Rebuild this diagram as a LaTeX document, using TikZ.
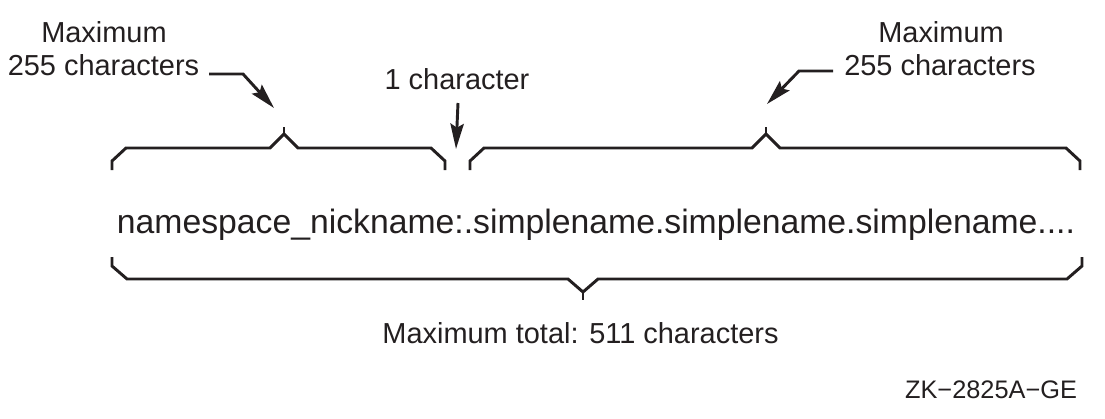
\documentclass[tikz,border=0pt]{standalone}
\usepackage{fontspec}
\setmainfont{Liberation Sans}
\usetikzlibrary{arrows.meta}
\definecolor{ink}{HTML}{231F20}
\begin{document}
\begin{tikzpicture}[x=0.75pt,y=-0.75pt,
  lbl/.style={inner sep=0pt,anchor=base,text=ink,font=\fontsize{21.7}{26}\selectfont},
  big/.style={inner sep=0pt,anchor=base,text=ink,font=\fontsize{25.3}{30}\selectfont},
  small/.style={inner sep=0pt,anchor=base,text=ink,font=\fontsize{19}{23}\selectfont},
  brace/.style={draw=ink,line width=2.2pt,line join=miter},
  tick/.style={draw=ink,line width=1.5pt},
  pointer/.style={draw=ink,line width=2.2pt,-{Stealth[length=19pt,width=10pt,inset=3pt]}}]
\useasboundingbox (0,0) rectangle (1105,418);

% labels
\node[lbl] (maxL) at (104,42) {Maximum};
\node[lbl] (numL) at (103.5,75) {255 characters};
\node[lbl] (one) at (457,89) {1 character};
\node[lbl] (maxR) at (941,42) {Maximum};
\node[lbl] (numR) at (940,75) {255 characters};
\node[big] (main) at (596,233) {namespace\_nickname:.simplename.simplename.simplename....};
\node[lbl] (total) at (580.5,343) {Maximum total: 511 characters};
\node[small] (code) at (991,398) {ZK−2825A−GE};

% top-left brace
\draw[brace] (112,170) -- (112,161) -- (126,148) -- (270,148) -- (284,134) -- (298,148) -- (431,148) -- (445,161) -- (445,170);
\draw[tick] (284,134) -- (284,127);
% top-right brace
\draw[brace] (470,170) -- (470,161) -- (484,148) -- (752,148) -- (766,134) -- (780,148) -- (1066,148) -- (1080,161) -- (1080,170);
\draw[tick] (766,134) -- (766,127);
% bottom brace
\draw[brace] (112,257) -- (112,266) -- (127,279) -- (568,279) -- (583,292) -- (598,279) -- (1067,279) -- (1082,266) -- (1082,257);
\draw[tick] (583,292) -- (583,300);

% pointers
\coordinate (aLs) at (209,74);
\coordinate (aLe) at (274,108);
\coordinate (aMs) at (458,103);
\coordinate (aMe) at (456,149);
\coordinate (aRs) at (833,71);
\coordinate (aRe) at (767,104);
\draw[pointer] (aLs) -- (243,74) -- (aLe);
\draw[pointer] (aMs) -- (aMe);
\draw[pointer] (aRs) -- (799,71) -- (aRe);
\end{tikzpicture}
\end{document}
